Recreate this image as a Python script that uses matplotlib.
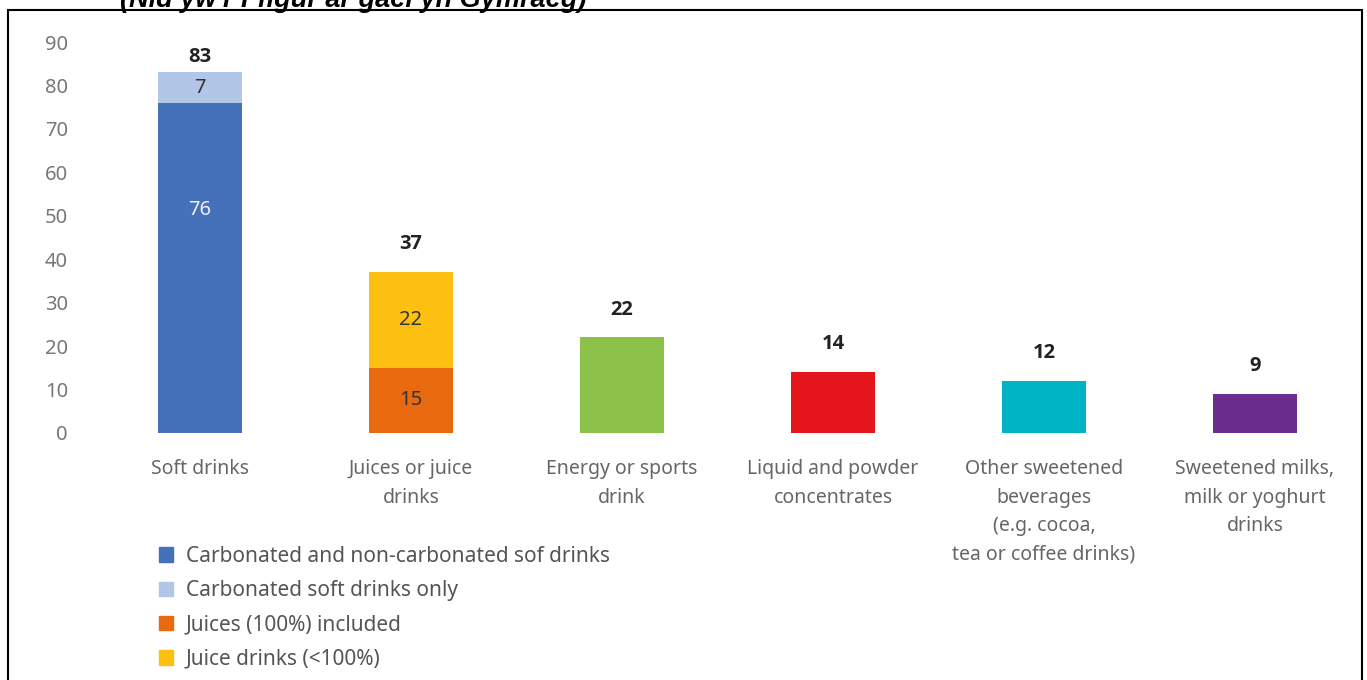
import matplotlib
matplotlib.use("Agg")
import matplotlib.pyplot as plt
from matplotlib.patches import Patch, Rectangle

plt.rcParams["font.family"] = ["Noto Sans", "DejaVu Sans"]

categories = [
    "Soft drinks",
    "Juices or juice\ndrinks",
    "Energy or sports\ndrink",
    "Liquid and powder\nconcentrates",
    "Other sweetened\nbeverages\n(e.g. cocoa,\ntea or coffee drinks)",
    "Sweetened milks,\nmilk or yoghurt\ndrinks",
]
# lower and upper stacked segments per category (0 = none)
lower_values = [76, 15, 22, 14, 12, 9]
upper_values = [7, 22, 0, 0, 0, 0]
totals = [83, 37, 22, 14, 12, 9]
lower_colors = ["#4570BA", "#E8690E", "#8DC24A", "#E5161B", "#00B4C6", "#6A2F8E"]
upper_colors = ["#B2C6E8", "#FDC010", None, None, None, None]
segment_labels_lower = ["76", "15", None, None, None, None]
segment_labels_upper = ["7", "22", None, None, None, None]
legend_labels = [
    "Carbonated and non-carbonated sof drinks",
    "Carbonated soft drinks only",
    "Juices (100%) included",
    "Juice drinks (<100%)",
]
legend_colors = ["#4570BA", "#B2C6E8", "#E8690E", "#FDC010"]
y_ticks = list(range(0, 100, 10))

fig = plt.figure(figsize=(13.67, 6.8), dpi=100)
ax = fig.add_axes([94.5 / 1367, 247 / 680, 1266 / 1367, 391 / 680])

x = list(range(len(categories)))
width = 0.4
ax.bar(x, lower_values, width=width, color=lower_colors)
for i, (lo, up) in enumerate(zip(lower_values, upper_values)):
    if up:
        ax.bar(i, up, width=width, bottom=lo, color=upper_colors[i])

bold = ["Open Sans", "DejaVu Sans"]
for i in x:
    if segment_labels_lower[i]:
        # the tall first segment carries its label above the middle
        ypos = lower_values[i] * (0.675 if i == 0 else 0.5)
        ax.text(i, ypos, segment_labels_lower[i], ha="center", va="center",
                fontsize=14.5, color="#EEF2FA" if i == 0 else "#333333")
    if segment_labels_upper[i]:
        ax.text(i, lower_values[i] + upper_values[i] / 2, segment_labels_upper[i],
                ha="center", va="center", fontsize=14.5, color="#333333")
    ax.annotate(str(totals[i]), (i, totals[i]), xytext=(0, 20 if totals[i] < 80 else 11),
                textcoords="offset points", ha="center", va="center",
                fontsize=14.5, family=bold, fontweight="bold", color="#222222")

ax.set_xlim(-0.5, 5.5)
ax.set_ylim(0, 90)
ax.set_yticks(y_ticks)
ax.set_xticks(x)
ax.set_xticklabels(categories, fontsize=14, color="#666666", linespacing=1.55)
ax.tick_params(axis="x", length=0, pad=19)
ax.tick_params(axis="y", length=0, pad=19, labelsize=14.5, labelcolor="#777777")
for s in ax.spines.values():
    s.set_visible(False)

handles = [Patch(color=c) for c in legend_colors]
fig.legend(handles, legend_labels, loc="upper left", bbox_to_anchor=(140 / 1367, 1 - 527 / 680),
           frameon=False, fontsize=15, handlelength=0.7, handleheight=0.7,
           handletextpad=0.6, labelspacing=0.64, labelcolor="#555555")

fig.patches.append(Rectangle((8 / 1367, -0.02), 1354 / 1367, 1.02 - 10 / 680,
                             transform=fig.transFigure, fill=False, edgecolor="black",
                             linewidth=1.5))
fig.text(120 / 1367, 1 - 7 / 680, "(Nid yw'r Ffigur ar gael yn Gymraeg)", fontsize=19.5,
         fontweight="bold", fontstyle="italic", family="Liberation Sans", va="baseline")

fig.savefig("out.png", dpi=100)
